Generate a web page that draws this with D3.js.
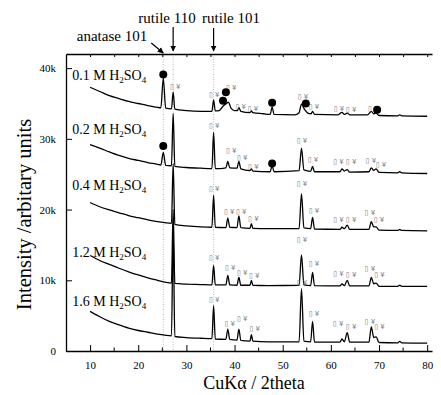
<!DOCTYPE html>
<html>
<head>
<meta charset="utf-8">
<script src="https://cdn.jsdelivr.net/npm/d3@7"></script>
<style>
  body { margin: 0; background: #fff; }
  svg text { font-family: "Liberation Serif", "Times New Roman", serif; }
  svg text.mark { font-family: "DejaVu Sans", sans-serif; }
</style>
</head>
<body>
<svg id="chart" width="441" height="395"></svg>
<script>
// sample names
const samples = ['0.1', '0.2', '0.4', '1.2', '1.6']

// XRD traces: [2theta, counts]
const trace01 = [[10,37300],[12,36700],[14,36100],[16,35700],[18,35300],[20,35000],[22,34700],[24,34450],[24.7,34400],[25.2,38600],[25.7,34350],[26.9,34250],[27.25,36600],[27.6,34200],[30,34000],[33,33900],[35.3,33900],[35.65,35500],[36.0,33950],[36.8,34000],[37.6,34600],[38.3,35000],[38.7,35200],[39.3,34300],[40,34000],[40.6,34000],[40.9,34400],[41.3,33900],[43.2,33700],[43.5,33950],[43.8,33700],[46,33550],[47.4,33450],[47.8,34500],[48.2,33450],[52.5,33400],[53.4,33700],[53.9,34900],[54.5,34200],[55.2,33650],[55.9,33550],[56.2,33900],[56.6,33450],[61.5,33400],[62.3,33750],[62.8,33450],[63.4,33650],[63.9,33400],[67.6,33400],[68.4,33900],[68.9,33550],[69.4,33650],[70,33300],[73.9,33250],[74.3,33400],[74.7,33250],[80,33200]]
const trace02 = [[10,29200],[12,28700],[14,28150],[16,27650],[18,27250],[20,26950],[22,26650],[24,26400],[24.7,26300],[25.2,28100],[25.7,26250],[26.9,26200],[27.25,33600],[27.6,26100],[30,25950],[33,25850],[35.3,25800],[35.65,30900],[36.0,25800],[37,25800],[38.2,25900],[38.6,26800],[39.0,25900],[40.5,25850],[40.9,26800],[41.3,25750],[43.2,25500],[43.5,25750],[43.8,25450],[47.4,25350],[47.8,26200],[48.2,25350],[53.4,25500],[53.9,28700],[54.4,25600],[55.8,25400],[56.2,26100],[56.6,25350],[61.9,25350],[62.3,25750],[62.8,25450],[63.4,25650],[63.9,25300],[67.9,25350],[68.4,25900],[68.9,25550],[69.4,25750],[70,25250],[73.9,25200],[74.3,25350],[74.7,25200],[80,25100]]
const trace04 = [[10,21000],[12,20400],[14,19950],[16,19550],[18,19150],[20,18850],[22,18550],[24,18300],[25.5,18150],[26.9,18050],[27.25,26500],[27.6,17900],[30,17700],[33,17550],[35.3,17500],[35.65,22000],[36.0,17500],[38.2,17450],[38.6,18800],[39.0,17500],[40.5,17450],[40.9,19100],[41.3,17450],[43.2,17350],[43.5,18000],[43.8,17350],[47,17300],[53.4,17300],[53.9,22200],[54.4,17400],[55.8,17300],[56.2,18900],[56.6,17250],[61.9,17200],[62.3,17500],[62.8,17300],[63.4,17800],[63.9,17200],[67.9,17200],[68.4,18300],[68.9,17550],[69.4,17550],[70,17100],[73.9,17050],[74.3,17200],[74.7,17050],[80,17000]]
const trace12 = [[10,13500],[12,12800],[14,12250],[16,11700],[18,11200],[20,10750],[22,10350],[24,10000],[25.5,9750],[26.9,9600],[27.25,20000],[27.6,9550],[30,9450],[33,9400],[35.3,9350],[35.65,12100],[36.0,9350],[38.2,9350],[38.6,10700],[39.0,9350],[40.5,9300],[40.9,10400],[41.3,9300],[43.2,9300],[43.5,10000],[43.8,9300],[47,9250],[53.4,9300],[53.9,13600],[54.4,9350],[55.8,9250],[56.2,11100],[56.6,9250],[61.9,9200],[62.3,9500],[62.8,9250],[63.4,10000],[63.9,9200],[67.9,9200],[68.4,10400],[68.9,9500],[69.4,9600],[70,9150],[73.9,9150],[74.3,9300],[74.7,9150],[80,9150]]
const trace16 = [[10,5600],[12,4850],[14,4200],[16,3700],[18,3250],[20,2900],[22,2650],[24,2400],[25.5,2250],[26.9,2150],[27.25,17000],[27.6,2050],[30,1900],[33,1800],[35.3,1750],[35.65,6400],[36.0,1700],[38.2,1650],[38.6,3100],[39.0,1650],[40.5,1550],[40.9,3100],[41.3,1500],[43.2,1400],[43.5,2300],[43.8,1400],[47,1300],[53.4,1300],[53.9,8800],[54.4,1400],[55.8,1300],[56.2,4200],[56.6,1250],[61.9,1250],[62.3,1700],[62.8,1300],[63.4,2600],[63.9,1250],[67.9,1250],[68.4,3400],[68.9,1900],[69.4,2000],[70,1200],[73.9,1150],[74.3,1350],[74.7,1150],[80,1100]]
const traces = [trace01, trace02, trace04, trace12, trace16]

// sample label positions: [2theta, counts] of the text baseline start
const sampleLabelPos = [[6.3, 38300], [6.3, 30700], [6.3, 22700], [6.3, 13300], [6.3, 6400]]

// peak marks drawn as the odd "box + yen" glyphs of the original
const marks01 = [[27.7,37500],[35.8,36400],[39.3,37300],[41.3,34600],[43.8,34300],[54.2,36000],[56.5,34700],[61.7,34400],[64.2,34200],[68.8,34400]]
const marks02 = [[35.8,32000],[39.3,28400],[41.6,27500],[43.9,26200],[54.0,29900],[56.3,27200],[61.6,26900],[64.2,26800],[68.3,27000],[70.4,26400]]
const marks04 = [[35.8,23100],[38.9,19800],[41.4,19800],[43.9,18800],[54.0,23700],[56.5,20000],[61.6,18700],[64.2,18600],[68.1,19600],[70.0,18600]]
const marks12 = [[35.8,13300],[39.1,11900],[41.6,11200],[44.1,10700],[54.0,15900],[56.5,12400],[61.6,11000],[64.2,10900],[68.1,11800],[70.1,10900]]
const marks16 = [[35.8,7300],[39.0,3900],[41.6,4700],[44.2,3200],[54.0,9800],[56.5,5400],[61.5,3900],[64.2,3500],[68.1,4300],[70.1,3500]]
const marks = [marks01, marks02, marks04, marks12, marks16]

// black dots
const dots = [[25.2,39100],[37.6,35400],[38.2,36600],[47.8,35100],[54.8,35000],[69.6,34100],[25.2,29000],[47.8,26500]]

// reference lines
const refNames = ['anatase 101', 'rutile 110', 'rutile 101']
const refAngles = [25.2, 27.25, 35.65]

const xTicks = [10, 20, 30, 40, 50, 60, 70, 80]
const xMinor = [15, 25, 35, 45, 55, 65, 75]
const yTicks = [0, 10000, 20000, 30000, 40000]

const margin = { top: 54, right: 9, bottom: 44, left: 66 }
const W = 441, H = 395

const svg = d3.select('#chart')

const x = d3.scaleLinear().domain([5, 81]).range([margin.left, W - margin.right])
const y = d3.scaleLinear().domain([0, 42000]).range([H - margin.bottom, margin.top])

// dotted reference verticals
svg.append('g')
  .selectAll('line')
  .data(refAngles)
  .enter()
  .append('line')
  .attr('x1', d => x(d)).attr('x2', d => x(d))
  .attr('y1', y(42000)).attr('y2', y(0))
  .attr('stroke', '#aaa')
  .attr('stroke-width', 0.8)
  .attr('stroke-dasharray', '1,1.5')

// traces
const line = d3.line()
  .x(d => x(d[0]))
  .y(d => y(d[1]))
  .curve(d3.curveMonotoneX)

svg.append('g')
  .selectAll('path')
  .data(traces)
  .enter()
  .append('path')
  .attr('d', line)
  .attr('fill', 'none')
  .attr('stroke', '#000')
  .attr('stroke-width', 1.3)

// peak marks
const markGroup = svg.append('g').attr('opacity', 0.99)
marks.forEach(list => {
  markGroup.selectAll(null)
    .data(list)
    .enter()
    .append('text')
    .attr('class', 'mark')
    .attr('x', d => x(d[0]))
    .attr('y', d => y(d[1]) + 3)
    .attr('text-anchor', 'middle')
    .style('font-size', '7px')
    .style('fill', '#777')
    .text('\u25AF \u00A5')
})

// dots
svg.append('g')
  .selectAll('circle')
  .data(dots)
  .enter()
  .append('circle')
  .attr('cx', d => x(d[0]))
  .attr('cy', d => y(d[1]))
  .attr('r', 4)
  .attr('fill', '#000')

// sample labels
const labels = svg.append('g').attr('font-size', 14)
samples.forEach((s, i) => {
  const t = labels.append('text')
    .attr('x', x(sampleLabelPos[i][0]))
    .attr('y', y(sampleLabelPos[i][1]))
  t.append('tspan').text(s + ' M H')
  t.append('tspan').attr('font-size', 9).attr('dy', 3).text('2')
  t.append('tspan').attr('dy', -3).text('SO')
  t.append('tspan').attr('font-size', 9).attr('dy', 3).text('4')
})

// axes
const axisBottom = d3.axisBottom(x).tickValues(xTicks).tickSizeInner(-6).tickSizeOuter(0).tickPadding(10)
const gx = svg.append('g')
  .attr('transform', `translate(0, ${y(0)})`)
  .call(axisBottom)
gx.selectAll('text').style('font-size', '11px').style('font-family', 'Liberation Serif')
gx.append('g')
  .selectAll('line')
  .data(xMinor)
  .enter()
  .append('line')
  .attr('x1', d => x(d)).attr('x2', d => x(d))
  .attr('y1', 0).attr('y2', -3.5)
  .attr('stroke', '#000')

const axisTop = d3.axisTop(x).tickValues(d3.range(10, 81, 5)).tickSizeInner(-3).tickSizeOuter(0).tickFormat('')
svg.append('g')
  .attr('transform', `translate(0, ${y(42000)})`)
  .call(axisTop)

const axisLeft = d3.axisLeft(y).tickValues(yTicks).tickSizeInner(-6).tickSizeOuter(0).tickPadding(10)
  .tickFormat(d => d === 0 ? '0' : (d / 1000) + 'k')
const gy = svg.append('g')
  .attr('transform', `translate(${x(5)}, 0)`)
  .call(axisLeft)
gy.selectAll('text').style('font-size', '11px').style('font-family', 'Liberation Serif')

svg.selectAll('.domain').attr('stroke-width', 1.3)

// axis titles
svg.append('text')
  .attr('x', (x(5) + x(81)) / 2 + 5)
  .attr('y', 389)
  .attr('text-anchor', 'middle')
  .attr('font-size', 18)
  .text('CuK\u03B1 / 2theta')

svg.append('text')
  .attr('transform', `translate(31, ${(y(0) + y(42000)) / 2 + 12}) rotate(-90)`)
  .attr('text-anchor', 'middle')
  .attr('font-size', 20.5)
  .text('Intensity /arbitary units')

// reference annotations with arrows
svg.append('defs').append('marker')
  .attr('id', 'head')
  .attr('viewBox', '0 0 10 10')
  .attr('refX', 9).attr('refY', 5)
  .attr('markerWidth', 5).attr('markerHeight', 6)
  .attr('orient', 'auto')
  .append('path')
  .attr('d', 'M0,0 L10,5 L0,10 z')
  .attr('fill', '#000')

const ann = svg.append('g').attr('font-size', 15)
ann.append('text').attr('x', 112).attr('y', 41).attr('text-anchor', 'middle').text(refNames[0])
ann.append('text').attr('x', 167).attr('y', 23).attr('text-anchor', 'middle').text(refNames[1])
ann.append('text').attr('x', 231).attr('y', 23).attr('text-anchor', 'middle').text(refNames[2])

ann.append('line')
  .attr('x1', x(refAngles[0]) - 12).attr('y1', 43)
  .attr('x2', x(refAngles[0])).attr('y2', y(42000) - 1)
  .attr('stroke', '#000').attr('stroke-width', 1.2).attr('marker-end', 'url(#head)')
ann.append('line')
  .attr('x1', x(refAngles[1])).attr('y1', 27)
  .attr('x2', x(refAngles[1])).attr('y2', y(42000) - 3)
  .attr('stroke', '#000').attr('stroke-width', 1.2).attr('marker-end', 'url(#head)')
ann.append('line')
  .attr('x1', x(refAngles[2])).attr('y1', 28)
  .attr('x2', x(refAngles[2])).attr('y2', y(42000) - 3)
  .attr('stroke', '#000').attr('stroke-width', 1.2).attr('marker-end', 'url(#head)')
</script>
</body>
</html>
